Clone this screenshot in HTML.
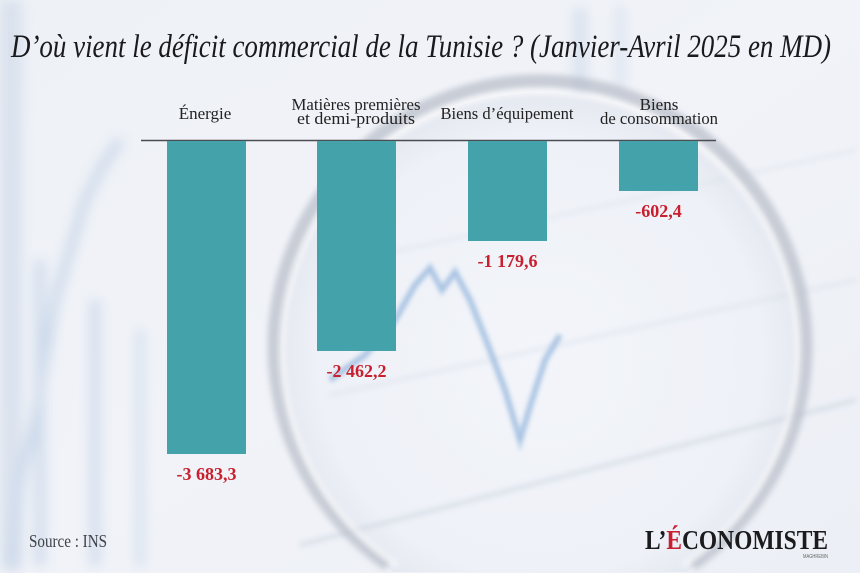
<!DOCTYPE html>
<html><head><meta charset="utf-8"><style>
html,body{margin:0;padding:0;background:#eef1f6;width:860px;height:573px;overflow:hidden;}
#wrap{position:relative;width:860px;height:573px;overflow:hidden;}
svg{display:block;position:absolute;left:0;top:0;}
</style></head><body><div id="wrap">
<svg width="860" height="573" viewBox="0 0 860 573" xmlns="http://www.w3.org/2000/svg" overflow="hidden">
<defs>
<filter id="b6" x="0" y="0" width="860" height="573" filterUnits="userSpaceOnUse"><feGaussianBlur stdDeviation="6"/></filter>
<filter id="b3" x="0" y="0" width="860" height="573" filterUnits="userSpaceOnUse"><feGaussianBlur stdDeviation="3"/></filter>
<filter id="b2" x="0" y="0" width="860" height="573" filterUnits="userSpaceOnUse"><feGaussianBlur stdDeviation="2"/></filter>
<radialGradient id="lens" cx="540" cy="356" r="262" gradientUnits="userSpaceOnUse">
<stop offset="0" stop-color="#f3f5fa"/><stop offset="0.85" stop-color="#eef1f7"/><stop offset="1" stop-color="#e4e8f0"/>
</radialGradient>
<linearGradient id="bg" x1="0" y1="0" x2="1" y2="1">
<stop offset="0" stop-color="#eef1f6"/><stop offset="0.5" stop-color="#f1f3f8"/><stop offset="1" stop-color="#eceff5"/>
</linearGradient>
</defs>
<rect width="860" height="573" fill="url(#bg)"/>
<!-- left blurred chart -->
<g filter="url(#b6)" opacity="0.75">
<rect x="0" y="0" width="22" height="570" fill="#d3ddeb"/>
<polyline points="12,570 20,480 35,420 45,360 55,300 70,250 85,200 100,170 120,140" fill="none" stroke="#b9cce4" stroke-width="8"/>
<line x1="40" y1="260" x2="40" y2="566" stroke="#c4d4e8" stroke-width="10"/>
<line x1="95" y1="300" x2="95" y2="566" stroke="#c7d6e9" stroke-width="10"/>
<line x1="140" y1="330" x2="140" y2="566" stroke="#cbd9ea" stroke-width="8"/>
<line x1="580" y1="8" x2="580" y2="130" stroke="#d2deec" stroke-width="14"/>
<line x1="620" y1="6" x2="620" y2="90" stroke="#d7e1ee" stroke-width="10"/>
</g>
<!-- lens -->
<path d="M 393.2 572 A 262 262 0 1 1 686.8 572 Z" fill="url(#lens)"/>
<g filter="url(#b3)" opacity="0.75">
<line x1="300" y1="545" x2="856" y2="400" stroke="#c5cfdc" stroke-width="3"/>
<line x1="330" y1="395" x2="856" y2="280" stroke="#d0d8e4" stroke-width="2"/>
<line x1="380" y1="255" x2="856" y2="150" stroke="#d6dde8" stroke-width="2"/>
</g>
<g filter="url(#b2)">
<polyline points="330,380 365,355 395,320 415,285 430,268 442,290 455,272 470,300 488,345 505,390 520,440 532,400 545,360 560,335" fill="none" stroke="#a9c5e4" stroke-width="7" opacity="0.7"/>
<polyline points="330,380 365,355 395,320 415,285 430,268 442,290 455,272 470,300 488,345 505,390 520,440 532,400 545,360 560,335" fill="none" stroke="#7ea6d2" stroke-width="2" opacity="0.5"/>
</g>
<g filter="url(#b3)">
<path d="M 388 565 A 266 266 0 1 1 692 565" fill="none" stroke="#b6bcc7" stroke-width="13" opacity="0.7"/>
<path d="M 397 565 A 258 258 0 1 1 683 565" fill="none" stroke="#f8f9fb" stroke-width="5" opacity="0.9"/>
</g>

<!-- title -->
<text x="11" y="57" font-family="Liberation Serif, serif" font-style="italic" font-size="33" fill="#1a1a1d" textLength="820" lengthAdjust="spacingAndGlyphs">D’où vient le déficit commercial de la Tunisie ? (Janvier-Avril 2025 en MD)</text>

<!-- category labels -->
<g font-family="Liberation Serif, serif" font-size="17" fill="#222" text-anchor="middle">
<text x="205" y="119">Énergie</text>
<text x="356" y="110" textLength="129" lengthAdjust="spacingAndGlyphs">Matières premières</text>
<text x="356" y="124" textLength="118" lengthAdjust="spacingAndGlyphs">et demi-produits</text>
<text x="507" y="119" textLength="133" lengthAdjust="spacingAndGlyphs">Biens d’équipement</text>
<text x="659" y="110">Biens</text>
<text x="659" y="124" textLength="118" lengthAdjust="spacingAndGlyphs">de consommation</text>
</g>

<!-- baseline -->
<line x1="141" y1="140.5" x2="716" y2="140.5" stroke="#4a4d52" stroke-width="1.5"/>

<!-- bars -->
<g fill="#44a3aa">
<rect x="167" y="141" width="79" height="313"/>
<rect x="317" y="141" width="79" height="210"/>
<rect x="468" y="141" width="79" height="100"/>
<rect x="619" y="141" width="79" height="50"/>
</g>

<!-- value labels -->
<g font-family="Liberation Serif, serif" font-weight="bold" font-size="18" fill="#c8202f" text-anchor="middle">
<text x="206.5" y="480">-3 683,3</text>
<text x="356.5" y="377">-2 462,2</text>
<text x="507.5" y="267">-1 179,6</text>
<text x="658.5" y="217">-602,4</text>
</g>

<!-- source -->
<text x="29" y="547" font-family="Liberation Serif, serif" font-size="18" fill="#3f4247" textLength="78" lengthAdjust="spacingAndGlyphs">Source : INS</text>

<!-- logo -->
<text x="645" y="549" font-family="Liberation Serif, serif" font-weight="bold" font-size="27" fill="#1b1b1e" textLength="183" lengthAdjust="spacingAndGlyphs">L’<tspan fill="#c8202f">É</tspan>CONOMISTE</text>
<text x="803" y="558" font-family="Liberation Sans, sans-serif" font-size="5" fill="#666" textLength="25" lengthAdjust="spacingAndGlyphs">MAGHREBIN</text>
</svg>
</div></body></html>
